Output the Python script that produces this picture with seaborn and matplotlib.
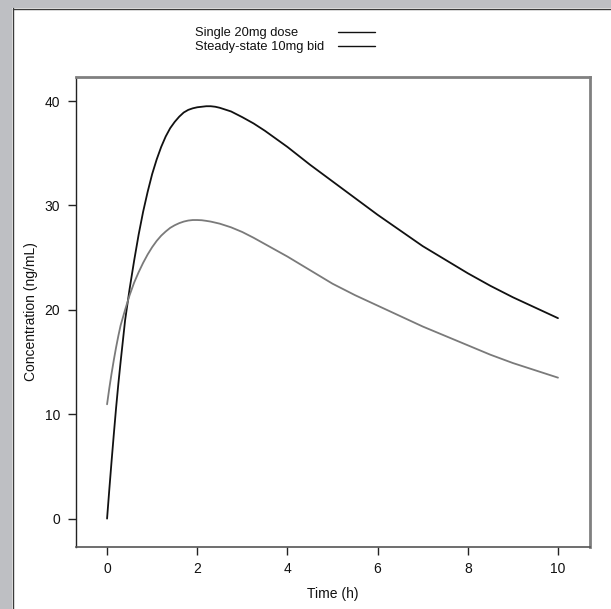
import matplotlib
matplotlib.use("Agg")
import matplotlib.pyplot as plt
from matplotlib.lines import Line2D
from matplotlib.patches import Rectangle
import pandas as pd
import seaborn as sns

# Concentration-time profiles (ng/mL) sampled over 0-10 h
time_h = [0, 0.05, 0.1, 0.15, 0.2, 0.25, 0.3, 0.4, 0.5, 0.6, 0.7, 0.8, 0.9,
          1.0, 1.1, 1.2, 1.3, 1.4, 1.5, 1.6, 1.7, 1.8, 1.9, 2.0, 2.1, 2.2,
          2.3, 2.4, 2.5, 2.75, 3.0, 3.25, 3.5, 4.0, 4.5, 5.0, 5.5, 6.0, 6.5,
          7.0, 7.5, 8.0, 8.5, 9.0, 9.5, 10.0]
single_20mg = [0.0, 2.8, 5.5, 8.1, 10.6, 12.9, 15.0, 19.0, 22.0, 24.7, 27.2,
               29.4, 31.3, 33.0, 34.4, 35.6, 36.6, 37.4, 38.0, 38.5, 38.9,
               39.15, 39.3, 39.4, 39.45, 39.5, 39.5, 39.45, 39.35, 39.0,
               38.45, 37.85, 37.15, 35.6, 33.9, 32.3, 30.7, 29.1, 27.6, 26.1,
               24.8, 23.5, 22.3, 21.2, 20.2, 19.2]
steady_10mg_bid = [10.95, 12.5, 13.9, 15.2, 16.4, 17.5, 18.5, 20.0, 21.4,
                   22.6, 23.6, 24.5, 25.3, 26.0, 26.6, 27.1, 27.5, 27.85,
                   28.1, 28.3, 28.45, 28.55, 28.6, 28.6, 28.58, 28.52, 28.45,
                   28.35, 28.25, 27.9, 27.45, 26.9, 26.3, 25.1, 23.8, 22.5,
                   21.4, 20.4, 19.4, 18.4, 17.5, 16.6, 15.7, 14.9, 14.2, 13.5]
series_names = ["Single 20mg dose", "Steady-state 10mg bid"]
x_ticks = [0, 2, 4, 6, 8, 10]
y_ticks = [0, 10, 20, 30, 40]

df = pd.DataFrame({
    "Time (h)": time_h * 2,
    "Concentration (ng/mL)": single_20mg + steady_10mg_bid,
    "Regimen": [series_names[0]] * len(time_h) + [series_names[1]] * len(time_h),
})

sns.set_theme(style="white")
plt.rcParams["font.family"] = ["Liberation Sans", "DejaVu Sans"]

W, H = 611, 609
fig = plt.figure(figsize=(W / 100, H / 100), dpi=100)
fig.patch.set_facecolor("white")

# Window-like frame on the top and left edges
frame_grey = "#bebfc3"
fig.patches.append(Rectangle((0, 0), 12 / W, 1, transform=fig.transFigure,
                             facecolor=frame_grey, edgecolor="none", zorder=0))
fig.patches.append(Rectangle((0, 1 - 8 / H), 1, 8 / H, transform=fig.transFigure,
                             facecolor=frame_grey, edgecolor="none", zorder=0))
fig.add_artist(Line2D([12.5 / W, 12.5 / W], [0, 1 - 8 / H], transform=fig.transFigure,
                      color="#3a3a3a", lw=1.0))
fig.add_artist(Line2D([12.5 / W, 1], [1 - 8.5 / H, 1 - 8.5 / H], transform=fig.transFigure,
                      color="#3a3a3a", lw=1.0))

left, right, top, bottom = 75.5, 590, 77, 547
ax = fig.add_axes([left / W, 1 - bottom / H, (right - left) / W, (bottom - top) / H])
ax.set_facecolor("white")

sns.lineplot(data=df, x="Time (h)", y="Concentration (ng/mL)", hue="Regimen",
             palette={series_names[0]: "#111111", series_names[1]: "#7a7a7a"},
             linewidth=1.3, legend=False, ax=ax)

ax.set_xlim(-0.70, 10.71)
ax.set_ylim(-2.72, 42.3)
ax.set_xticks(x_ticks)
ax.set_yticks(y_ticks)
ax.set_xticklabels([str(v) for v in x_ticks])
ax.set_yticklabels([str(v) for v in y_ticks])
ax.tick_params(axis="both", direction="out", length=6, width=1.0, color="#222222",
               labelsize=10, labelcolor="#111111", pad=5, left=True, bottom=True)
ax.set_xlabel("Time (h)", fontsize=10, color="#111111", labelpad=8)
ax.set_ylabel("Concentration (ng/mL)", fontsize=10, color="#111111", labelpad=5)

for side, col, lw in [("left", "#222222", 1.0), ("bottom", "#555555", 1.2),
                      ("top", "#808080", 2.0), ("right", "#808080", 2.0)]:
    ax.spines[side].set_visible(True)
    ax.spines[side].set_color(col)
    ax.spines[side].set_linewidth(lw)

# Legend above the panel: labels on the left, line samples on the right
legend_rows = [(33, 32), (47, 46)]
for name, (ty, ly) in zip(series_names, legend_rows):
    fig.text(195 / W, 1 - ty / H, name, fontsize=9.3, color="#111111",
             ha="left", va="center")
    fig.add_artist(Line2D([338 / W, 375 / W], [1 - ly / H, 1 - ly / H],
                          transform=fig.transFigure, color="#111111", lw=1.0))

fig.savefig("out.png", dpi=100, facecolor="white")
